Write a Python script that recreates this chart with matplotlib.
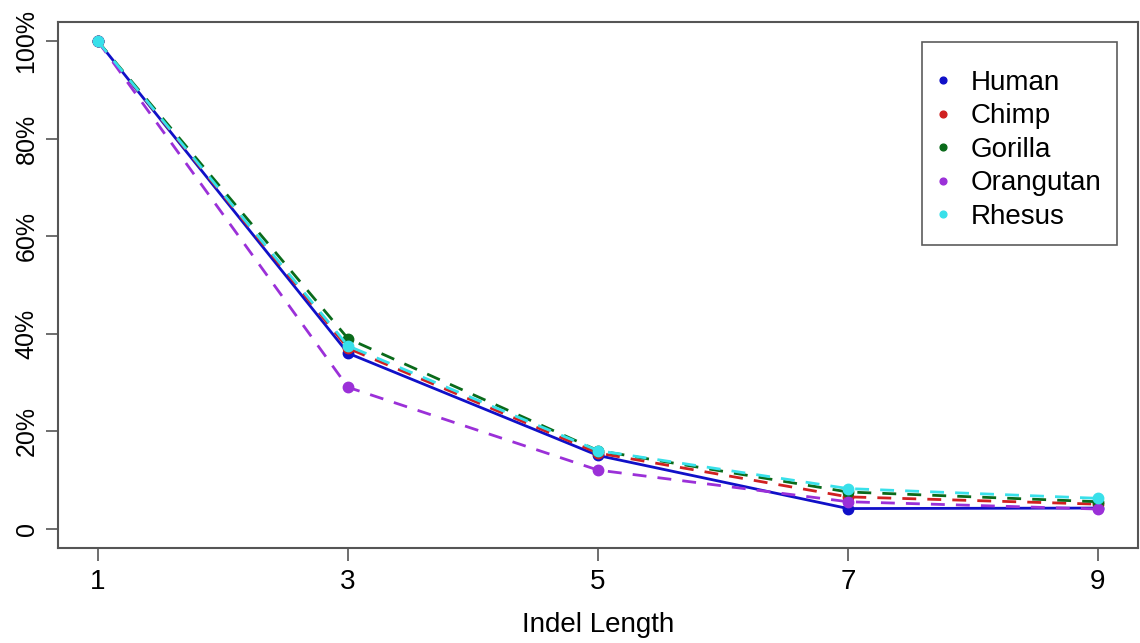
import matplotlib
matplotlib.use("Agg")
import matplotlib.pyplot as plt

plt.rcParams['font.family'] = ['Liberation Sans', 'DejaVu Sans']

indel_length = [1, 3, 5, 7, 9]
species = ["Human", "Chimp", "Gorilla", "Orangutan", "Rhesus"]
human = [100, 36, 15, 4.1, 4.2]
chimp = [100, 37, 15.5, 6.5, 5.0]
gorilla = [100, 39, 16, 7.5, 5.5]
orangutan = [100, 29, 12, 5.5, 4.0]
rhesus = [100, 37.5, 16, 8.2, 6.2]
y_ticks = [0, 20, 40, 60, 80, 100]
y_tick_labels = ["0", "20%", "40%", "60%", "80%", "100%"]

series = [human, chimp, gorilla, orangutan, rhesus]
colors = ["#1010C8", "#D02020", "#0A6A1A", "#9B30D8", "#38E0EA"]
styles = ["-", "--", "--", "--", "--"]

fig = plt.figure(figsize=(11.4, 6.43), dpi=100)
ax = fig.add_axes([58/1140, 1-548/643, (1138-58)/1140, (548-22)/643])

for name, vals, c, ls in zip(species, series, colors, styles):
    ax.plot(indel_length, vals, linestyle=ls, color=c, lw=2.0,
            dashes=(5, 4) if ls == "--" else (None, None))
    ax.plot(indel_length, vals, linestyle="none", marker="o", ms=7.5, color=c, label=name)

ax.set_xlim(0.68, 9.32)
ax.set_ylim(-4, 104)
ax.set_xticks(indel_length)
ax.set_xticklabels([str(v) for v in indel_length], fontsize=20)
ax.set_yticks(y_ticks)
ax.set_yticklabels(y_tick_labels, fontsize=18, rotation=90, va="center")
ax.tick_params(direction="out", length=9, width=1.2, color="#555555")
ax.tick_params(axis="x", pad=6)
ax.tick_params(axis="y", pad=5)
for s in ax.spines.values():
    s.set_color("#555555")
    s.set_linewidth(1.5)
ax.set_xlabel("Indel Length", fontsize=20, labelpad=12)

leg = ax.legend(loc="upper right", bbox_to_anchor=(1117/1140, 1-42/643), bbox_transform=fig.transFigure,
                fontsize=20, frameon=True, fancybox=False, markerscale=0.65,
                handlelength=0.4, handletextpad=0.8, borderpad=0.55, labelspacing=0.27,
                borderaxespad=0, title=" ", title_fontsize=4)
leg.get_frame().set_edgecolor("#333333")
leg.get_frame().set_linewidth(1.2)

fig.savefig("out.png", dpi=100)
